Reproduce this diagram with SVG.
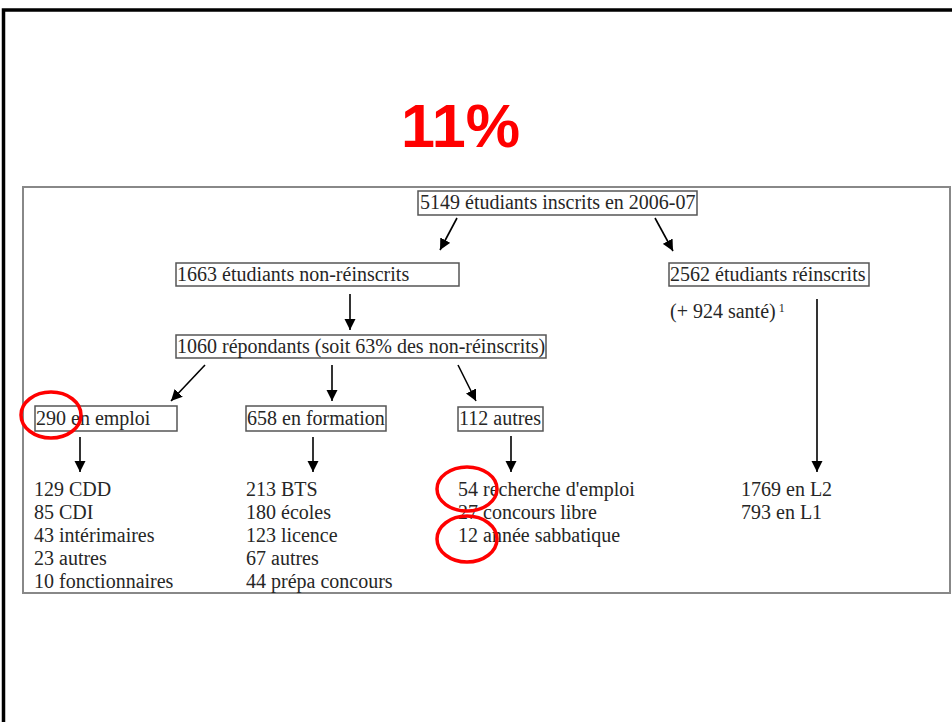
<svg xmlns="http://www.w3.org/2000/svg" width="952" height="722" viewBox="0 0 952 722">
<style>
  .t { font-family: 'Liberation Serif', 'Times New Roman', serif; font-size: 20px; fill: #262626; }
  .box { fill: #fff; stroke: #555; stroke-width: 1.5; }
  .conn line { stroke: #000; stroke-width: 1.6; marker-end: url(#ah); }
  .ring { fill: none; stroke: #f00; stroke-width: 3.5; }
</style>
<defs>
  <marker id="ah" viewBox="0 0 10 10" refX="10" refY="5" markerWidth="7" markerHeight="7" markerUnits="strokeWidth" orient="auto">
    <path d="M0,0 L10,5 L0,10 z" fill="#000"/>
  </marker>
</defs>
<rect width="952" height="722" fill="#fff"/>
<!-- slide frame -->
<path d="M3.5,722 L3.5,10 L952,10" fill="none" stroke="#000" stroke-width="3.5"/>
<text x="401" y="147" style="font-family:'Liberation Sans',Arial,sans-serif" font-weight="bold" font-size="61" fill="#f00" textLength="119" lengthAdjust="spacingAndGlyphs">11%</text>
<!-- inner frame -->
<rect x="23" y="187" width="927" height="406" fill="none" stroke="#888" stroke-width="2"/>

<g id="n-inscrits">
  <rect class="box" x="418" y="191" width="279" height="24"/>
  <text class="t" x="420" y="209">5149 étudiants inscrits en 2006-07</text>
</g>
<g id="n-nonreinscrits">
  <rect class="box" x="176" y="263" width="283" height="23"/>
  <text class="t" x="177" y="281">1663 étudiants non-réinscrits</text>
</g>
<g id="n-reinscrits">
  <rect class="box" x="669" y="263" width="200" height="23"/>
  <text class="t" x="670" y="281">2562 étudiants réinscrits</text>
  <text class="t" x="670" y="318">(+ 924 santé)<tspan font-size="12" dy="-6"> 1</tspan></text>
</g>
<g id="n-repondants">
  <rect class="box" x="176" y="335" width="370" height="23"/>
  <text class="t" x="177" y="353">1060 répondants (soit 63% des non-réinscrits)</text>
</g>
<g id="n-emploi">
  <rect class="box" x="35" y="406" width="142" height="25"/>
  <text class="t" x="36" y="425">290 en emploi</text>
</g>
<g id="n-formation">
  <rect class="box" x="246" y="406" width="140" height="25"/>
  <text class="t" x="247" y="425">658 en formation</text>
</g>
<g id="n-autres">
  <rect class="box" x="458" y="407" width="85" height="24"/>
  <text class="t" x="459" y="425">112 autres</text>
</g>
<g id="l-emploi">
  <text class="t" x="34" y="496">129 CDD</text>
  <text class="t" x="34" y="519">85 CDI</text>
  <text class="t" x="34" y="542">43 intérimaires</text>
  <text class="t" x="34" y="565">23 autres</text>
  <text class="t" x="34" y="588">10 fonctionnaires</text>
</g>
<g id="l-formation">
  <text class="t" x="246" y="496">213 BTS</text>
  <text class="t" x="246" y="519">180 écoles</text>
  <text class="t" x="246" y="542">123 licence</text>
  <text class="t" x="246" y="565">67 autres</text>
  <text class="t" x="246" y="588">44 prépa concours</text>
</g>
<g id="l-autres">
  <text class="t" x="458" y="496">54 recherche d'emploi</text>
  <text class="t" x="458" y="519">27 concours libre</text>
  <text class="t" x="458" y="542">12 année sabbatique</text>
</g>
<g id="l-reinscrits">
  <text class="t" x="741" y="496">1769 en L2</text>
  <text class="t" x="741" y="519">793 en L1</text>
</g>

<g id="connectors" class="conn">
  <line x1="457" y1="218" x2="440" y2="250"/>
  <line x1="655" y1="218" x2="673" y2="251"/>
  <line x1="350" y1="294" x2="350" y2="330"/>
  <line x1="205" y1="365" x2="171" y2="401"/>
  <line x1="332" y1="365" x2="332" y2="401"/>
  <line x1="458" y1="365" x2="476" y2="401"/>
  <line x1="80" y1="437" x2="80" y2="472"/>
  <line x1="313" y1="437" x2="313" y2="472"/>
  <line x1="511" y1="436" x2="511" y2="472"/>
  <line x1="817" y1="299" x2="817" y2="472"/>
</g>

<g id="annotations">
  <ellipse class="ring" cx="51" cy="415" rx="30" ry="23"/>
  <ellipse class="ring" cx="467" cy="489" rx="30" ry="22"/>
  <ellipse class="ring" cx="467" cy="539" rx="30" ry="23"/>
</g>
</svg>
